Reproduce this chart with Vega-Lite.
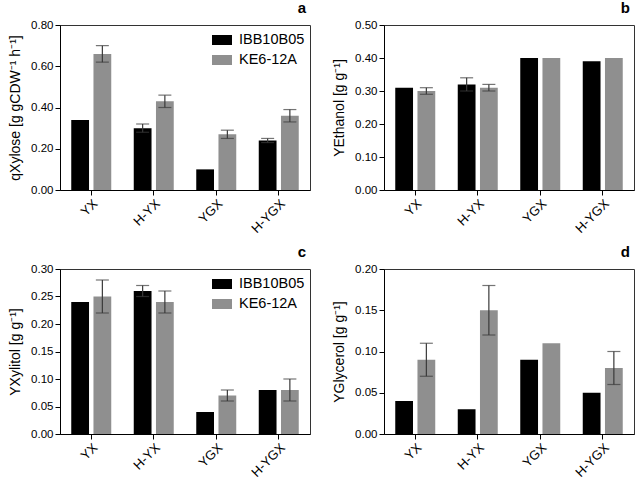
{
  "$schema": "https://vega.github.io/schema/vega-lite/v6.json",
  "padding": {"left": 8, "top": 0, "right": 2, "bottom": 2},
  "datasets": {
    "rows": [
      {"panel": "a", "cat": "YX", "strain": "IBB10B05", "value": 0.34, "lo": null, "hi": null},
      {"panel": "a", "cat": "YX", "strain": "KE6-12A", "value": 0.66, "lo": 0.62, "hi": 0.70},
      {"panel": "a", "cat": "H-YX", "strain": "IBB10B05", "value": 0.30, "lo": 0.28, "hi": 0.32},
      {"panel": "a", "cat": "H-YX", "strain": "KE6-12A", "value": 0.43, "lo": 0.40, "hi": 0.46},
      {"panel": "a", "cat": "YGX", "strain": "IBB10B05", "value": 0.10, "lo": null, "hi": null},
      {"panel": "a", "cat": "YGX", "strain": "KE6-12A", "value": 0.27, "lo": 0.25, "hi": 0.29},
      {"panel": "a", "cat": "H-YGX", "strain": "IBB10B05", "value": 0.24, "lo": 0.23, "hi": 0.25},
      {"panel": "a", "cat": "H-YGX", "strain": "KE6-12A", "value": 0.36, "lo": 0.33, "hi": 0.39},
      {"panel": "b", "cat": "YX", "strain": "IBB10B05", "value": 0.31, "lo": null, "hi": null},
      {"panel": "b", "cat": "YX", "strain": "KE6-12A", "value": 0.30, "lo": 0.29, "hi": 0.31},
      {"panel": "b", "cat": "H-YX", "strain": "IBB10B05", "value": 0.32, "lo": 0.30, "hi": 0.34},
      {"panel": "b", "cat": "H-YX", "strain": "KE6-12A", "value": 0.31, "lo": 0.30, "hi": 0.32},
      {"panel": "b", "cat": "YGX", "strain": "IBB10B05", "value": 0.40, "lo": null, "hi": null},
      {"panel": "b", "cat": "YGX", "strain": "KE6-12A", "value": 0.40, "lo": null, "hi": null},
      {"panel": "b", "cat": "H-YGX", "strain": "IBB10B05", "value": 0.39, "lo": null, "hi": null},
      {"panel": "b", "cat": "H-YGX", "strain": "KE6-12A", "value": 0.40, "lo": null, "hi": null},
      {"panel": "c", "cat": "YX", "strain": "IBB10B05", "value": 0.24, "lo": null, "hi": null},
      {"panel": "c", "cat": "YX", "strain": "KE6-12A", "value": 0.25, "lo": 0.22, "hi": 0.28},
      {"panel": "c", "cat": "H-YX", "strain": "IBB10B05", "value": 0.26, "lo": 0.25, "hi": 0.27},
      {"panel": "c", "cat": "H-YX", "strain": "KE6-12A", "value": 0.24, "lo": 0.22, "hi": 0.26},
      {"panel": "c", "cat": "YGX", "strain": "IBB10B05", "value": 0.04, "lo": null, "hi": null},
      {"panel": "c", "cat": "YGX", "strain": "KE6-12A", "value": 0.07, "lo": 0.06, "hi": 0.08},
      {"panel": "c", "cat": "H-YGX", "strain": "IBB10B05", "value": 0.08, "lo": null, "hi": null},
      {"panel": "c", "cat": "H-YGX", "strain": "KE6-12A", "value": 0.08, "lo": 0.06, "hi": 0.10},
      {"panel": "d", "cat": "YX", "strain": "IBB10B05", "value": 0.04, "lo": null, "hi": null},
      {"panel": "d", "cat": "YX", "strain": "KE6-12A", "value": 0.09, "lo": 0.07, "hi": 0.11},
      {"panel": "d", "cat": "H-YX", "strain": "IBB10B05", "value": 0.03, "lo": null, "hi": null},
      {"panel": "d", "cat": "H-YX", "strain": "KE6-12A", "value": 0.15, "lo": 0.12, "hi": 0.18},
      {"panel": "d", "cat": "YGX", "strain": "IBB10B05", "value": 0.09, "lo": null, "hi": null},
      {"panel": "d", "cat": "YGX", "strain": "KE6-12A", "value": 0.11, "lo": null, "hi": null},
      {"panel": "d", "cat": "H-YGX", "strain": "IBB10B05", "value": 0.05, "lo": null, "hi": null},
      {"panel": "d", "cat": "H-YGX", "strain": "KE6-12A", "value": 0.08, "lo": 0.06, "hi": 0.10}
    ]
  },
  "data": {"name": "rows"},
  "columns": 2,
  "spacing": {"row": 79, "column": 74},
  "bounds": "flush",
  "resolve": {"scale": {"y": "independent", "color": "independent"}, "legend": {"color": "independent"}},
  "config": {
    "font": "Liberation Sans",
    "view": {"stroke": "#333333", "strokeWidth": 1},
    "axis": {"domainColor": "#000000", "tickColor": "#000000", "labelColor": "#000000", "titleColor": "#000000", "grid": false, "tickSize": 5, "labelPadding": 2, "titleFontWeight": "normal", "domainWidth": 1, "labelOverlap": false},
    "axisY": {"labelFontSize": 11.5, "titleFontSize": 14, "titlePadding": 8},
    "axisX": {"labelFontSize": 13, "labelAngle": -45, "title": null},
    "title": {"anchor": "end", "fontSize": 15, "fontWeight": "bold", "dx": -4, "offset": 3, "color": "#000000"},
    "legend": {"orient": "top-right", "offset": 5, "padding": 0, "rowPadding": 3, "labelFontSize": 14.5, "labelColor": "#000000", "symbolType": "M-1,-0.5H1V0.5H-1Z", "symbolSize": 400, "symbolStrokeWidth": 0, "symbolOpacity": 1, "labelOffset": 7, "title": null}
  },
  "concat": [
    {
      "title": "a",
      "width": 250, "height": 165,
      "transform": [{"filter": "datum.panel == 'a'"}],
      "encoding": {
        "x": {"field": "cat", "type": "nominal", "sort": ["YX", "H-YX", "YGX", "H-YGX"], "scale": {"paddingInner": 0.36, "paddingOuter": 0.18}},
        "xOffset": {"field": "strain", "type": "nominal", "sort": ["IBB10B05", "KE6-12A"], "scale": {"paddingInner": 0.2}}
      },
      "layer": [
        {"mark": {"type": "bar"}, "encoding": {
          "y": {"field": "value", "type": "quantitative", "scale": {"domain": [0, 0.8], "nice": false}, "axis": {"title": "qXylose [g gCDW⁻¹ h⁻¹]", "values": [0, 0.2, 0.4, 0.6, 0.8], "format": ".2f"}},
          "color": {"field": "strain", "type": "nominal", "scale": {"domain": ["IBB10B05", "KE6-12A"], "range": ["#000000", "#8f8f8f"]}, "legend": {}}}},
        {"transform": [{"filter": "isValid(datum.lo)"}], "mark": {"type": "rule", "color": "#3a3a3a", "strokeWidth": 1.2}, "encoding": {"y": {"field": "lo", "type": "quantitative", "axis": {"title": "qXylose [g gCDW⁻¹ h⁻¹]", "values": [0, 0.2, 0.4, 0.6, 0.8], "format": ".2f"}}, "y2": {"field": "hi"}}},
        {"transform": [{"filter": "isValid(datum.lo)"}], "mark": {"type": "tick", "color": "#3a3a3a", "size": 13, "thickness": 1.2}, "encoding": {"y": {"field": "lo", "type": "quantitative", "axis": {"title": "qXylose [g gCDW⁻¹ h⁻¹]", "values": [0, 0.2, 0.4, 0.6, 0.8], "format": ".2f"}}}},
        {"transform": [{"filter": "isValid(datum.hi)"}], "mark": {"type": "tick", "color": "#3a3a3a", "size": 13, "thickness": 1.2}, "encoding": {"y": {"field": "hi", "type": "quantitative", "axis": {"title": "qXylose [g gCDW⁻¹ h⁻¹]", "values": [0, 0.2, 0.4, 0.6, 0.8], "format": ".2f"}}}}
      ]
    },
    {
      "title": "b",
      "width": 250, "height": 165,
      "transform": [{"filter": "datum.panel == 'b'"}],
      "encoding": {
        "x": {"field": "cat", "type": "nominal", "sort": ["YX", "H-YX", "YGX", "H-YGX"], "scale": {"paddingInner": 0.36, "paddingOuter": 0.18}},
        "xOffset": {"field": "strain", "type": "nominal", "sort": ["IBB10B05", "KE6-12A"], "scale": {"paddingInner": 0.2}}
      },
      "layer": [
        {"mark": {"type": "bar"}, "encoding": {
          "y": {"field": "value", "type": "quantitative", "scale": {"domain": [0, 0.5], "nice": false}, "axis": {"title": "YEthanol [g g⁻¹]", "values": [0, 0.1, 0.2, 0.3, 0.4, 0.5], "format": ".2f"}},
          "color": {"field": "strain", "type": "nominal", "scale": {"domain": ["IBB10B05", "KE6-12A"], "range": ["#000000", "#8f8f8f"]}, "legend": null}}},
        {"transform": [{"filter": "isValid(datum.lo)"}], "mark": {"type": "rule", "color": "#3a3a3a", "strokeWidth": 1.2}, "encoding": {"y": {"field": "lo", "type": "quantitative", "axis": {"title": "YEthanol [g g⁻¹]", "values": [0, 0.1, 0.2, 0.3, 0.4, 0.5], "format": ".2f"}}, "y2": {"field": "hi"}}},
        {"transform": [{"filter": "isValid(datum.lo)"}], "mark": {"type": "tick", "color": "#3a3a3a", "size": 13, "thickness": 1.2}, "encoding": {"y": {"field": "lo", "type": "quantitative", "axis": {"title": "YEthanol [g g⁻¹]", "values": [0, 0.1, 0.2, 0.3, 0.4, 0.5], "format": ".2f"}}}},
        {"transform": [{"filter": "isValid(datum.hi)"}], "mark": {"type": "tick", "color": "#3a3a3a", "size": 13, "thickness": 1.2}, "encoding": {"y": {"field": "hi", "type": "quantitative", "axis": {"title": "YEthanol [g g⁻¹]", "values": [0, 0.1, 0.2, 0.3, 0.4, 0.5], "format": ".2f"}}}}
      ]
    },
    {
      "title": "c",
      "width": 250, "height": 165,
      "transform": [{"filter": "datum.panel == 'c'"}],
      "encoding": {
        "x": {"field": "cat", "type": "nominal", "sort": ["YX", "H-YX", "YGX", "H-YGX"], "scale": {"paddingInner": 0.36, "paddingOuter": 0.18}},
        "xOffset": {"field": "strain", "type": "nominal", "sort": ["IBB10B05", "KE6-12A"], "scale": {"paddingInner": 0.2}}
      },
      "layer": [
        {"mark": {"type": "bar"}, "encoding": {
          "y": {"field": "value", "type": "quantitative", "scale": {"domain": [0, 0.3], "nice": false}, "axis": {"title": "YXylitol [g g⁻¹]", "values": [0, 0.05, 0.1, 0.15, 0.2, 0.25, 0.3], "format": ".2f"}},
          "color": {"field": "strain", "type": "nominal", "scale": {"domain": ["IBB10B05", "KE6-12A"], "range": ["#000000", "#8f8f8f"]}, "legend": {}}}},
        {"transform": [{"filter": "isValid(datum.lo)"}], "mark": {"type": "rule", "color": "#3a3a3a", "strokeWidth": 1.2}, "encoding": {"y": {"field": "lo", "type": "quantitative", "axis": {"title": "YXylitol [g g⁻¹]", "values": [0, 0.05, 0.1, 0.15, 0.2, 0.25, 0.3], "format": ".2f"}}, "y2": {"field": "hi"}}},
        {"transform": [{"filter": "isValid(datum.lo)"}], "mark": {"type": "tick", "color": "#3a3a3a", "size": 13, "thickness": 1.2}, "encoding": {"y": {"field": "lo", "type": "quantitative", "axis": {"title": "YXylitol [g g⁻¹]", "values": [0, 0.05, 0.1, 0.15, 0.2, 0.25, 0.3], "format": ".2f"}}}},
        {"transform": [{"filter": "isValid(datum.hi)"}], "mark": {"type": "tick", "color": "#3a3a3a", "size": 13, "thickness": 1.2}, "encoding": {"y": {"field": "hi", "type": "quantitative", "axis": {"title": "YXylitol [g g⁻¹]", "values": [0, 0.05, 0.1, 0.15, 0.2, 0.25, 0.3], "format": ".2f"}}}}
      ]
    },
    {
      "title": "d",
      "width": 250, "height": 165,
      "transform": [{"filter": "datum.panel == 'd'"}],
      "encoding": {
        "x": {"field": "cat", "type": "nominal", "sort": ["YX", "H-YX", "YGX", "H-YGX"], "scale": {"paddingInner": 0.36, "paddingOuter": 0.18}},
        "xOffset": {"field": "strain", "type": "nominal", "sort": ["IBB10B05", "KE6-12A"], "scale": {"paddingInner": 0.2}}
      },
      "layer": [
        {"mark": {"type": "bar"}, "encoding": {
          "y": {"field": "value", "type": "quantitative", "scale": {"domain": [0, 0.2], "nice": false}, "axis": {"title": "YGlycerol [g g⁻¹]", "values": [0, 0.05, 0.1, 0.15, 0.2], "format": ".2f"}},
          "color": {"field": "strain", "type": "nominal", "scale": {"domain": ["IBB10B05", "KE6-12A"], "range": ["#000000", "#8f8f8f"]}, "legend": null}}},
        {"transform": [{"filter": "isValid(datum.lo)"}], "mark": {"type": "rule", "color": "#3a3a3a", "strokeWidth": 1.2}, "encoding": {"y": {"field": "lo", "type": "quantitative", "axis": {"title": "YGlycerol [g g⁻¹]", "values": [0, 0.05, 0.1, 0.15, 0.2], "format": ".2f"}}, "y2": {"field": "hi"}}},
        {"transform": [{"filter": "isValid(datum.lo)"}], "mark": {"type": "tick", "color": "#3a3a3a", "size": 13, "thickness": 1.2}, "encoding": {"y": {"field": "lo", "type": "quantitative", "axis": {"title": "YGlycerol [g g⁻¹]", "values": [0, 0.05, 0.1, 0.15, 0.2], "format": ".2f"}}}},
        {"transform": [{"filter": "isValid(datum.hi)"}], "mark": {"type": "tick", "color": "#3a3a3a", "size": 13, "thickness": 1.2}, "encoding": {"y": {"field": "hi", "type": "quantitative", "axis": {"title": "YGlycerol [g g⁻¹]", "values": [0, 0.05, 0.1, 0.15, 0.2], "format": ".2f"}}}}
      ]
    }
  ]
}
